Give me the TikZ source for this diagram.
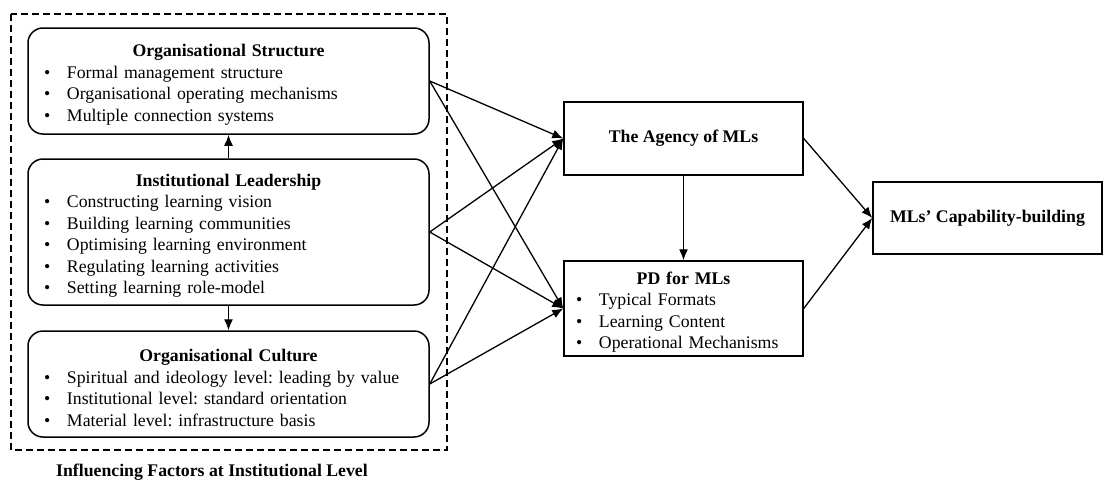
\documentclass[tikz,border=0pt]{standalone}
\usepackage{fontspec}
\setmainfont{Liberation Serif}
\frenchspacing
\usetikzlibrary{arrows.meta}
\newcommand{\boxhead}[1]{\rule{0pt}{20pt}\makebox[\hsize]{\bfseries #1}}
\newcommand{\bitem}[1]{\makebox[23pt][l]{\textbullet}#1}

\begin{document}
\begin{tikzpicture}[x=1pt,y=-1pt,font=\fontsize{17.75}{21.5}\selectfont,
  factor/.style={draw,rounded corners=15pt,line width=1.5pt,align=left,
    text width=369pt,inner xsep=16pt,inner ysep=0pt,minimum height=106pt},
  stage/.style={draw,line width=1.5pt,inner sep=0pt},
  link/.style={-{Latex[length=11pt,width=9pt]},line width=1.3pt}]
\useasboundingbox (0,0) rectangle (1103,482);

% institutional level
\draw[line width=1.3pt,dash pattern=on 7pt off 4pt] (11,14) rectangle (447,450);

\node[factor] (struct) at (228.5,81) {\boxhead{Organisational Structure}\\
  \bitem{Formal management structure}\\
  \bitem{Organisational operating mechanisms}\\
  \bitem{Multiple connection systems}};
\node[factor,minimum height=146pt] (lead) at (228.5,232) {\boxhead{Institutional Leadership}\\
  \bitem{Constructing learning vision}\\
  \bitem{Building learning communities}\\
  \bitem{Optimising learning environment}\\
  \bitem{Regulating learning activities}\\
  \bitem{Setting learning role-model}};
\node[factor] (culture) at (228.5,384) {\boxhead{Organisational Culture}\\
  \bitem{Spiritual and ideology level: leading by value}\\
  \bitem{Institutional level: standard orientation}\\
  \bitem{Material level: infrastructure basis}};
\node[font=\fontsize{17.75}{21.5}\selectfont\bfseries] (caption) at (212,472) {Influencing Factors at Institutional Level};

% MLs
\node[stage,minimum width=239pt,minimum height=73pt] (agency) at (683.5,138.5) {\textbf{The Agency of MLs}};
\node[stage,align=left,text width=215pt,inner xsep=12pt,minimum height=95pt] (pd) at (683.5,308.5) {\boxhead{PD for MLs}\\
  \bitem{Typical Formats}\\
  \bitem{Learning Content}\\
  \bitem{Operational Mechanisms}};
\node[stage,minimum width=229pt,minimum height=72pt] (cap) at (987.5,218) {\textbf{MLs’ Capability-building}};

% links
\draw[link] (lead) -- (struct);
\draw[link] (lead) -- (culture);
\foreach \s in {struct,lead,culture}{
  \draw[link] (\s.east) -- (agency.west);
  \draw[link] (\s.east) -- (pd.west);
}
\draw[link] (agency) -- (pd);
\draw[link] (agency.east) -- (cap.west);
\draw[link] (pd.east) -- (cap.west);
\end{tikzpicture}
\end{document}
